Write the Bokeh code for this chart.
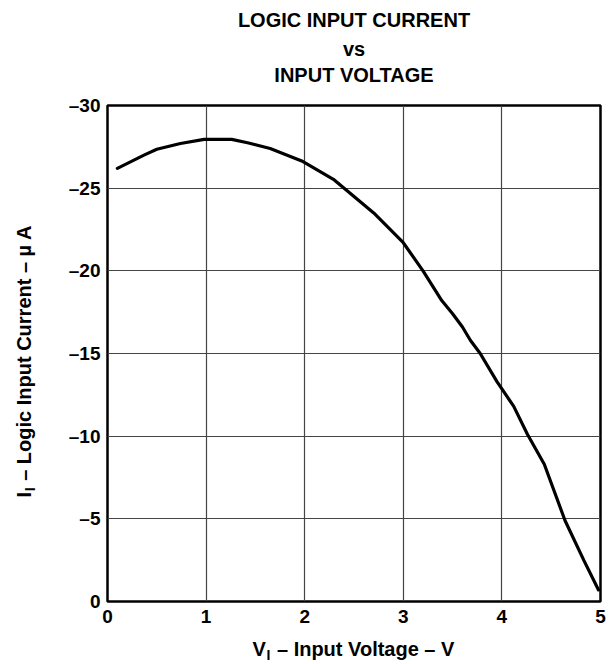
import math
from bokeh.plotting import figure
from bokeh.models import Range1d, FixedTicker, CustomJSTickFormatter, Label
from bokeh.embed import file_html
from bokeh.resources import INLINE

# Data
voltage = [0.1, 0.37, 0.5, 0.74, 0.98, 1.26, 1.42, 1.65, 1.97, 2.3, 2.7,
           3.0, 3.2, 3.39, 3.5, 3.6, 3.68, 3.78, 3.95, 4.12, 4.26, 4.43,
           4.64, 4.83, 4.98]
current = [-26.2, -27.0, -27.35, -27.7, -27.95, -27.95, -27.75, -27.4, -26.65,
           -25.5, -23.5, -21.7, -20.0, -18.2, -17.4, -16.6, -15.8, -15.0,
           -13.3, -11.8, -10.1, -8.3, -4.9, -2.5, -0.7]
x_ticks = [0, 1, 2, 3, 4, 5]
y_ticks = [0, -5, -10, -15, -20, -25, -30]
title_lines = ["LOGIC INPUT CURRENT", "vs", "INPUT VOLTAGE"]
# main text with a non-breaking space slot for the subscript, then the subscript
x_label_main = "V\u00a0 \u2013 Input Voltage \u2013 V"
x_label_sub = "I"
y_label_main = "I\u00a0 \u2013 Logic Input Current \u2013 \u00b5 A"
y_label_sub = "I"

FONT = "Liberation Sans"

# frame geometry (figure pixels)
W, H = 612, 662
BL, BT = 107, 105
BR = W - 600
BB = H - 601
X0, X1 = 0, 5
Y0, Y1 = 0, -30

p = figure(width=W, height=H, output_backend="svg", toolbar_location=None,
           x_range=Range1d(X0, X1), y_range=Range1d(Y0, Y1),
           min_border_left=BL, min_border_right=BR, min_border_top=BT,
           min_border_bottom=BB)
p.background_fill_color = "white"
p.border_fill_color = "white"
p.outline_line_color = "black"
p.outline_line_width = 2.5

for ax in (p.xaxis, p.yaxis):
    ax.axis_line_color = None
    ax.major_tick_line_color = None
    ax.minor_tick_line_color = None
    ax.major_tick_out = 0
    ax.major_tick_in = 0
    ax.major_label_text_font = FONT
    ax.major_label_text_font_style = "bold"
    ax.major_label_text_font_size = "19px"
    ax.major_label_text_color = "black"

p.xaxis.ticker = FixedTicker(ticks=x_ticks)
p.yaxis.ticker = FixedTicker(ticks=y_ticks)
p.xaxis.major_label_standoff = 8
p.yaxis.major_label_standoff = 7
p.yaxis.formatter = CustomJSTickFormatter(
    code="return tick == 0 ? '0' : '\u2013' + Math.abs(tick);")

p.xgrid.ticker = FixedTicker(ticks=x_ticks)
p.ygrid.ticker = FixedTicker(ticks=y_ticks)
for g in (p.xgrid, p.ygrid):
    g.grid_line_color = "#444444"
    g.grid_line_width = 1.2

p.line(voltage, current, line_color="black", line_width=3.2, line_join="round",
       line_cap="round")

# helpers: page pixel -> range units (texts live in the side panels)
FW = W - BL - BR
FH = H - BT - BB
MID = (0.905 - 0.212) / 2  # label anchor sits mid-way in the font box


def px_x(page_x):
    return X0 + (page_x - BL) / FW * (X1 - X0)


def px_y(page_y):
    return Y1 + (page_y - BT) / FH * (Y0 - Y1)


def add_text(side, page_x, page_y, txt, size, align="left", angle=0.0):
    shift = MID * size
    if angle == 0.0:
        page_y -= shift
    else:
        page_x -= shift
    p.add_layout(Label(x=px_x(page_x), y=px_y(page_y), text=txt,
                       x_units="data", y_units="data", angle=angle,
                       text_align=align, text_baseline="alphabetic",
                       text_font=FONT, text_font_style="bold",
                       text_font_size=f"{size}px", text_color="black"), side)


# Title (three centred lines), baselines in page pixels
for txt, by in zip(title_lines, [26, 55, 81]):
    add_text("above", 353.5, by, txt, 20, align="center")

# X axis label: V_I – Input Voltage – V
add_text("below", 252, 655, x_label_main, 20)
add_text("left", 266, 659, x_label_sub, 14)

# Y axis label (rotated): I_I – Logic Input Current – µA
add_text("left", 30.5, 497, y_label_main, 20, angle=math.pi / 2)
add_text("above", 34.5, 490.8, y_label_sub, 14, angle=math.pi / 2)

open("out.html", "w").write(file_html(p, INLINE))
